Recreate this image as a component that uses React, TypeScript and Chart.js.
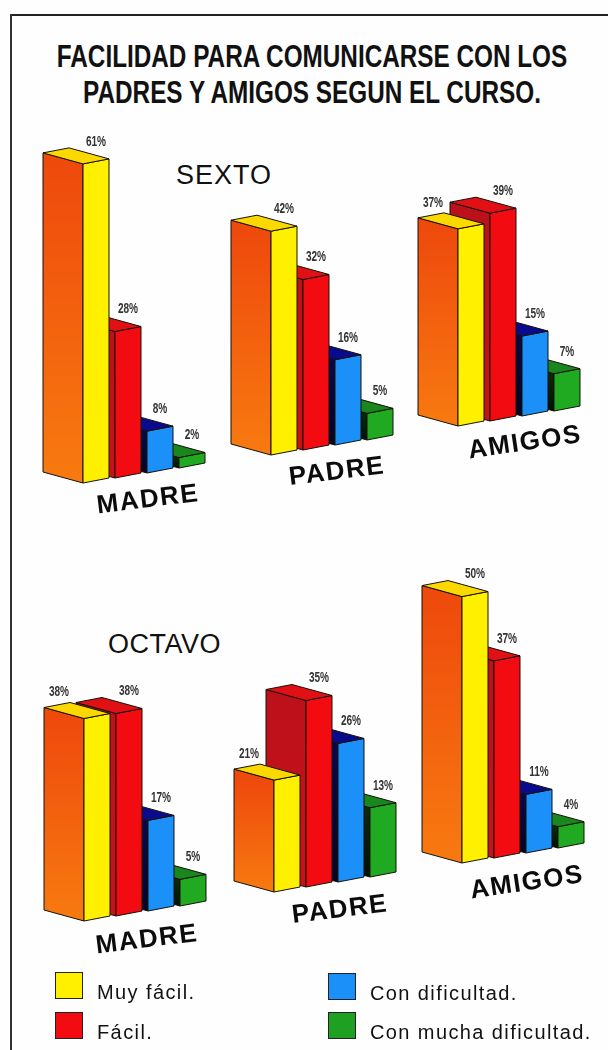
import React, { useEffect, useRef } from "react";
import { Chart, registerables } from "chart.js";

Chart.register(...registerables);

const titleLines = ["FACILIDAD PARA COMUNICARSE CON LOS", "PADRES Y AMIGOS SEGUN EL CURSO."];
const answers = ["Muy fácil.", "Fácil.", "Con dificultad.", "Con mucha dificultad."];

const sextoMadre = [61, 28, 8, 2];
const sextoPadre = [42, 32, 16, 5];
const sextoAmigos = [37, 39, 15, 7];
const octavoMadre = [38, 38, 17, 5];
const octavoPadre = [21, 35, 26, 13];
const octavoAmigos = [50, 37, 11, 4];

const CANVAS_W = 220;
const CANVAS_H = 450;
const DEPTH_X = 40;
const DEPTH_Y = 11;
const RISE = 5;

const panels = [
  { name: "MADRE", values: sextoMadre, fx: 83, base: 483, labelX: 148, labelY: 500, angle: -7, yMax: 71.3 },
  { name: "PADRE", values: sextoPadre, fx: 271, base: 455, labelX: 337, labelY: 472, angle: -7, yMax: 70 },
  { name: "AMIGOS", values: sextoAmigos, fx: 458, base: 426, labelX: 525, labelY: 443, angle: -8.5, yMax: 70 },
  { name: "MADRE", values: octavoMadre, fx: 84, base: 921, labelX: 147, labelY: 940, angle: -7, yMax: 70 },
  { name: "PADRE", values: octavoPadre, fx: 274, base: 892, labelX: 340, labelY: 910, angle: -7, yMax: 70 },
  { name: "AMIGOS", values: octavoAmigos, fx: 462, base: 863, labelX: 527, labelY: 883, angle: -8.5, yMax: 70 },
];

const faces = [
  { left: ["#ee4a0c", "#f87a10"], right: "#fff000", top: "#fbd800" },
  { left: ["#bc101a", "#c8121a"], right: "#f20c12", top: "#e01014" },
  { left: ["#08084a", "#040420"], right: "#1a90f8", top: "#0a0a8c" },
  { left: ["#0a2a0c", "#041004"], right: "#20aa22", top: "#1a861e" },
];

const swatches = [
  { color: "#fff000", x: 55, y: 972, textX: 97 },
  { color: "#f20c12", x: 55, y: 1012, textX: 97 },
  { color: "#1a90f8", x: 328, y: 973, textX: 370 },
  { color: "#20a022", x: 328, y: 1012, textX: 370 },
];

function poly(ctx: CanvasRenderingContext2D, pts: number[][], fill: any) {
  ctx.beginPath();
  pts.forEach((p, i) => (i ? ctx.lineTo(p[0], p[1]) : ctx.moveTo(p[0], p[1])));
  ctx.closePath();
  ctx.fillStyle = fill;
  ctx.fill();
  ctx.strokeStyle = "#141008";
  ctx.lineWidth = 1;
  ctx.stroke();
}

function makePlugin(panel: (typeof panels)[number], left: number, top: number) {
  return {
    id: "box3d",
    beforeDatasetDraw(chart: any, args: any) {
      const ctx: CanvasRenderingContext2D = chart.ctx;
      const els = args.meta.data;
      const rise = (i: number) => RISE * i;
      for (let i = els.length - 1; i >= 0; i--) {
        const el = els[i];
        const w = el.width;
        const fx = el.x - w / 2;
        const by = el.base - rise(i);
        const ty = el.y - rise(i);
        const wy = 5;
        const c = faces[i];
        const g = ctx.createLinearGradient(0, ty, 0, by);
        g.addColorStop(0, c.left[0]);
        g.addColorStop(1, c.left[1]);
        poly(ctx, [[fx, ty], [fx - DEPTH_X, ty - DEPTH_Y], [fx - DEPTH_X, by - DEPTH_Y], [fx, by]], g);
        poly(ctx, [[fx, ty], [fx + w, ty - wy], [fx + w, by - wy], [fx, by]], c.right);
        poly(ctx, [[fx, ty], [fx - DEPTH_X, ty - DEPTH_Y], [fx - DEPTH_X + w, ty - DEPTH_Y - wy], [fx + w, ty - wy]], c.top);
      }
      const values = panel.values;
      els.forEach((el: any, i: number) => {
        const fx = el.x - el.width / 2;
        const ty = el.y - rise(i);
        const hidden = i === 0 && values[1] >= values[0];
        const lx = fx + (hidden ? -25 : 13);
        const ly = ty - (hidden ? 26 : 22);
        ctx.save();
        ctx.translate(lx, ly);
        ctx.scale(0.72, 1);
        ctx.font = "bold 14px 'Liberation Sans'";
        ctx.textAlign = "center";
        ctx.textBaseline = "middle";
        ctx.fillStyle = "#333";
        ctx.fillText(values[i] + "%", 0, 0);
        ctx.restore();
      });
      ctx.save();
      ctx.translate(panel.labelX - left, panel.labelY - top);
      ctx.rotate((panel.angle * Math.PI) / 180);
      ctx.font = "bold 26px 'Liberation Sans'";
      (ctx as any).letterSpacing = "1.5px";
      ctx.textAlign = "center";
      ctx.textBaseline = "middle";
      ctx.fillStyle = "#0c0c0c";
      ctx.fillText(panel.name, 0, 0);
      ctx.restore();
      return false;
    },
  };
}

function Panel({ panel }: { panel: (typeof panels)[number] }) {
  const ref = useRef<HTMLCanvasElement | null>(null);
  const left = panel.fx - 59;
  const top = panel.base - 390;
  useEffect(() => {
    const chart = new Chart(ref.current as HTMLCanvasElement, {
      type: "bar",
      data: {
        labels: answers,
        datasets: [{ label: panel.name, data: panel.values, categoryPercentage: 1, barPercentage: 0.8125 }],
      },
      options: {
        responsive: false,
        animation: false,
        layout: { padding: { left: 56, right: 36, top: 17, bottom: 60 } },
        plugins: { legend: { display: false }, title: { display: false }, tooltip: { enabled: false } },
        scales: { x: { display: false }, y: { display: false, min: 0, max: panel.yMax } },
      },
      plugins: [makePlugin(panel, left, top)],
    } as any);
    return () => chart.destroy();
  }, []);
  return <canvas ref={ref} width={CANVAS_W} height={CANVAS_H} style={{ position: "absolute", left, top, width: CANVAS_W, height: CANVAS_H }} />;
}

const sans = "'Liberation Sans', Arial, sans-serif";

export default function App() {
  return (
    <div style={{ position: "fixed", left: 0, top: 0, width: 608, height: 1050, overflow: "hidden", background: "#fefefe", fontFamily: sans, color: "#111" }}>
      <div style={{ position: "absolute", left: 10, top: 14, width: 598, height: 2, background: "#222" }} />
      <div style={{ position: "absolute", left: 10, top: 14, width: 2, height: 1036, background: "#333" }} />
      {titleLines.map((t, i) => (
        <div key={t} style={{ position: "absolute", left: -88, width: 800, top: 41 + i * 36, textAlign: "center", fontWeight: 700, fontSize: 31, lineHeight: "32px", whiteSpace: "nowrap", transform: "scaleX(0.784)", transformOrigin: "400px 0" }}>
          {t}
        </div>
      ))}
      <div style={{ position: "absolute", left: 176, top: 159, fontSize: 27, lineHeight: "32px", letterSpacing: "1px" }}>SEXTO</div>
      <div style={{ position: "absolute", left: 108, top: 628, fontSize: 27, lineHeight: "32px", letterSpacing: "0.5px" }}>OCTAVO</div>
      {panels.map((p, i) => (
        <Panel key={i} panel={p} />
      ))}
      {answers.map((a, i) => (
        <React.Fragment key={a}>
          <div style={{ position: "absolute", left: swatches[i].x, top: swatches[i].y, width: 26, height: 25, background: swatches[i].color, border: "1px solid #222" }} />
          <div style={{ position: "absolute", left: swatches[i].textX, top: swatches[i].y + 9, fontSize: 20, lineHeight: "22px", letterSpacing: "1.4px", whiteSpace: "nowrap" }}>{a}</div>
        </React.Fragment>
      ))}
    </div>
  );
}
